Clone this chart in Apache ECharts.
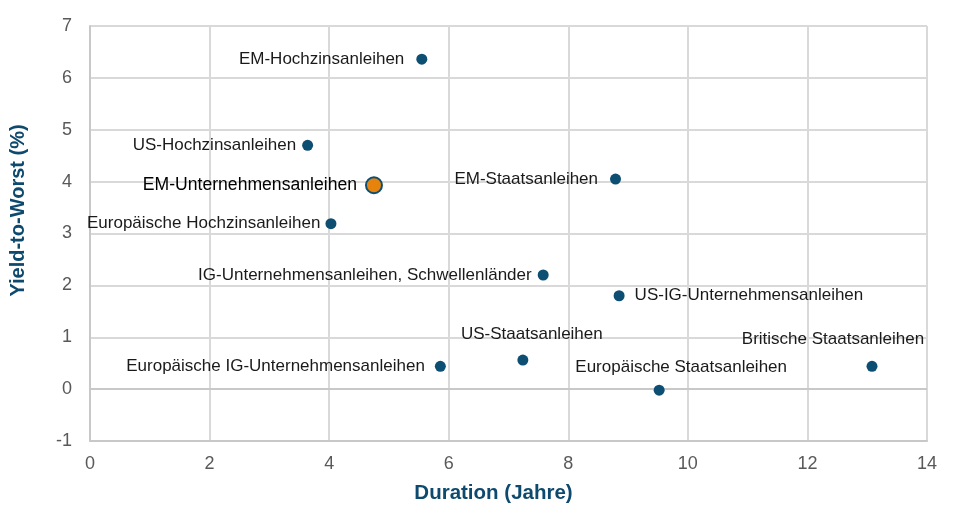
<!DOCTYPE html>
<html>
<head>
<meta charset="utf-8">
<script src="https://cdn.jsdelivr.net/npm/echarts@6/dist/echarts.min.js"></script>
<style>
html,body{margin:0;padding:0;background:#fff;}
#c{width:960px;height:510px;}
</style>
</head>
<body>
<div id="c"></div>
<script>
const names = ["EM-Hochzinsanleihen","US-Hochzinsanleihen","EM-Unternehmensanleihen","Europäische Hochzinsanleihen","EM-Staatsanleihen","IG-Unternehmensanleihen, Schwellenländer","US-IG-Unternehmensanleihen","US-Staatsanleihen","Europäische IG-Unternehmensanleihen","Europäische Staatsanleihen","Britische Staatsanleihen"];
const duration = [5.55, 3.64, 4.75, 4.03, 8.79, 7.58, 8.85, 7.24, 5.86, 9.52, 13.08];
const yieldToWorst = [6.36, 4.70, 3.93, 3.19, 4.05, 2.20, 1.80, 0.56, 0.44, -0.02, 0.44];
const xTicks = [0, 2, 4, 6, 8, 10, 12, 14];
const yTicks = [-1, 0, 1, 2, 3, 4, 5, 6, 7];

const BLUE = '#0d4f73';
const ORANGE = '#e5830d';
const FONT = '"Liberation Sans", Arial, sans-serif';

// label placement styles keyed by name
const labelStyles = {
  "EM-Hochzinsanleihen": {position:'left', distance:12},
  "US-Hochzinsanleihen": {position:'left', distance:6},
  "EM-Unternehmensanleihen": {position:'left', distance:8},
  "Europäische Hochzinsanleihen": {position:'left', distance:5},
  "EM-Staatsanleihen": {position:'left', distance:12},
  "IG-Unternehmensanleihen, Schwellenländer": {position:'left', distance:6},
  "US-IG-Unternehmensanleihen": {position:'right', distance:10},
  "US-Staatsanleihen": {position:'top', distance:12, offset:[9,0]},
  "Europäische IG-Unternehmensanleihen": {position:'left', distance:10},
  "Europäische Staatsanleihen": {position:'top', distance:9, offset:[22,0]},
  "Britische Staatsanleihen": {position:'top', distance:13, offset:[-39,0]}
};

const data = names.map((n, i) => {
  const isHL = n === "EM-Unternehmensanleihen";
  const ls = labelStyles[n];
  return {
    name: n,
    value: [duration[i], yieldToWorst[i]],
    symbolSize: isHL ? 16 : 11,
    itemStyle: isHL ? {color: ORANGE, borderColor: BLUE, borderWidth: 2, opacity: 1} : {color: BLUE, opacity: 1},
    label: Object.assign({
      show: true,
      formatter: n,
      color: isHL ? '#000' : '#1a1a1a',
      fontSize: isHL ? 17.6 : 17,
      fontFamily: FONT
    }, ls)
  };
});

const chart = echarts.init(document.getElementById('c'), null, {renderer: 'canvas'});
chart.setOption({
  animation: false,
  grid: {left: 89, right: 33, top: 26, bottom: 69, containLabel: false},
  xAxis: {
    type: 'value',
    min: xTicks[0], max: xTicks[xTicks.length - 1], interval: 2,
    name: 'Duration (Jahre)',
    nameLocation: 'middle', nameGap: 42,
    nameTextStyle: {color: '#0e4a6e', fontSize: 20.5, fontWeight: 'bold', fontFamily: FONT, padding: [0, 30, 0, 0]},
    axisLine: {onZero: false, lineStyle: {color: '#c8c8c8', width: 2}},
    axisTick: {show: false},
    axisLabel: {color: '#595959', fontSize: 18, margin: 14, fontFamily: FONT},
    splitLine: {lineStyle: {color: '#d9d9d9', width: 2}}
  },
  yAxis: {
    type: 'value',
    min: yTicks[0], max: yTicks[yTicks.length - 1], interval: 1,
    name: 'Yield-to-Worst (%)',
    nameLocation: 'middle', nameGap: 62, nameRotate: 90,
    nameTextStyle: {color: '#0e4a6e', fontSize: 20, fontWeight: 'bold', fontFamily: FONT, padding: [0, 0, 0, 46]},
    axisLine: {show: true, lineStyle: {color: '#c8c8c8', width: 2}},
    axisTick: {show: false},
    axisLabel: {color: '#595959', fontSize: 18, margin: 18, fontFamily: FONT},
    splitLine: {lineStyle: {color: '#d9d9d9', width: 2}}
  },
  series: [{
    type: 'scatter',
    data: data,
    z: 5,
    markLine: {
      silent: true,
      symbol: 'none',
      label: {show: false},
      lineStyle: {color: '#c8c8c8', width: 2, type: 'solid'},
      data: [{yAxis: 0}]
    }
  }]
});
</script>
</body>
</html>
